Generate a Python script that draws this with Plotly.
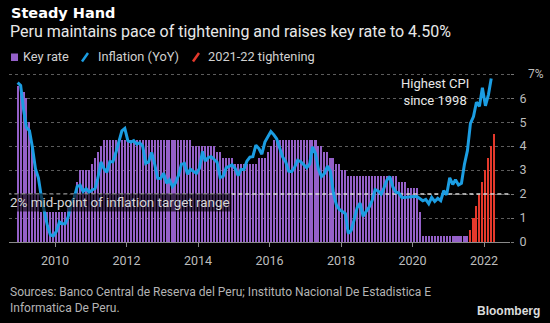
import pandas as pd
import plotly.graph_objects as go

# ---------------- data ----------------
# Monthly CPI YoY (%), Dec 2008 .. Mar 2022
inflation = [
    6.65,
    6.53, 5.49, 4.78, 4.64, 3.95, 3.06, 2.68, 1.87, 1.20, 0.68, 0.29, 0.25,
    0.44, 0.84, 0.76, 0.76, 1.04, 1.64, 1.82, 2.31, 2.37, 2.10, 2.22, 2.08,
    2.17, 2.23, 2.66, 3.34, 3.07, 2.91, 3.35, 3.35, 3.73, 4.20, 4.64, 4.74,
    4.23, 4.17, 4.23, 4.08, 4.14, 4.00, 3.28, 3.35, 3.74, 3.25, 2.66, 2.65,
    2.87, 2.45, 2.59, 2.31, 2.46, 2.77, 3.24, 3.28, 2.83, 3.04, 2.96, 2.86,
    3.07, 3.78, 3.38, 3.52, 3.56, 3.45, 3.33, 2.69, 2.74, 3.09, 3.16, 3.22,
    3.07, 2.77, 3.02, 3.02, 3.37, 3.54, 3.56, 4.04, 3.90, 3.66, 4.17, 4.40,
    4.61, 4.47, 4.30, 3.91, 3.54, 3.34, 2.96, 2.94, 3.13, 3.41, 3.35, 3.23,
    3.10, 3.25, 3.97, 3.69, 3.04, 2.73, 2.85, 3.17, 2.94, 2.04, 1.54, 1.36,
    1.25, 1.18, 0.36, 0.48, 0.93, 1.43, 1.62, 1.07, 1.28, 1.45, 1.74, 2.19,
    2.13, 2.00, 2.25, 2.59, 2.73, 2.29, 2.08, 2.04, 1.85, 1.87, 1.87, 1.90,
    1.90, 1.90, 1.82, 1.72, 1.78, 1.60, 1.86, 1.69, 1.82, 1.72, 2.14, 1.97,
    2.68, 2.40, 2.60, 2.38, 2.45, 3.25, 3.81, 4.95, 5.23, 5.83, 5.66, 6.43,
    5.68, 6.15, 6.82,
]
# Monthly reference rate (%), Dec 2008 .. Jul 2021
key_rate = (
    [6.5]
    + [6.5, 6.25, 6.0, 5.0, 4.0, 3.0, 2.0, 1.25, 1.25, 1.25, 1.25, 1.25]          # 2009
    + [1.25, 1.25, 1.25, 1.25, 1.5, 1.75, 2.0, 2.5, 3.0, 3.0, 3.0, 3.0]           # 2010
    + [3.25, 3.5, 3.75, 4.0] + [4.25] * 8                                        # 2011
    + [4.25] * 12                                                                # 2012
    + [4.25] * 10 + [4.0, 4.0]                                                   # 2013
    + [4.0] * 6 + [3.75, 3.75, 3.5, 3.5, 3.5, 3.5]                               # 2014
    + [3.25] * 8 + [3.5, 3.5, 3.5, 3.75]                                         # 2015
    + [4.0] + [4.25] * 11                                                        # 2016
    + [4.25] * 4 + [4.0, 4.0, 3.75, 3.75, 3.5, 3.5, 3.25, 3.25]                  # 2017
    + [3.0, 3.0] + [2.75] * 10                                                   # 2018
    + [2.75] * 7 + [2.5, 2.5, 2.5, 2.25, 2.25]                                   # 2019
    + [2.25, 2.25, 1.25] + [0.25] * 9                                            # 2020
    + [0.25] * 7                                                                 # 2021
)
# 2021-22 tightening (%), Aug 2021 .. Apr 2022
tightening = [0.5, 1.0, 1.5, 2.0, 2.5, 3.0, 3.5, 4.0, 4.5]

year_ticks = ["2010", "2012", "2014", "2016", "2018", "2020", "2022"]
y_ticks = [0, 1, 2, 3, 4, 5, 6, 7]
target_mid = 2

months_infl = pd.date_range("2008-12-01", periods=len(inflation), freq="MS") + pd.Timedelta(days=14)
months_key = pd.date_range("2008-12-01", periods=len(key_rate), freq="MS") + pd.Timedelta(days=14)
months_tight = pd.date_range("2021-08-01", periods=len(tightening), freq="MS") + pd.Timedelta(days=14)

# ---------------- styling ----------------
PURPLE = "#9460c8"
BLUE = "#1b9de2"
RED = "#e5392c"
FONT = "Roboto"

W, H = 550, 323
L, R, T, B = 9, 40, 73, 81
PW, PH = W - L - R, H - T - B


def px(x):
    return (x - L) / PW


def py(y):
    return (H - B - y) / PH


bar_w = 21 * 24 * 3600 * 1000

fig = go.Figure()
fig.add_trace(go.Bar(x=months_key, y=key_rate, width=bar_w, marker=dict(color=PURPLE, line=dict(width=0)),
                     name="Key rate", showlegend=False))
fig.add_trace(go.Bar(x=months_tight, y=tightening, width=bar_w, marker=dict(color=RED, line=dict(width=0)),
                     name="2021-22 tightening", showlegend=False))
fig.add_trace(go.Scatter(x=["2008-09-01", "2022-12-31"], y=[target_mid, target_mid], mode="lines",
                         line=dict(color="#d8d8d8", width=1.5, dash="4px,3px"), showlegend=False,
                         hoverinfo="skip"))
fig.add_trace(go.Scatter(x=months_infl, y=inflation, mode="lines", line=dict(color=BLUE, width=3),
                         name="Inflation (YoY)", showlegend=False))

ann = []
ann.append(dict(text="<b>Steady Hand</b>", x=px(9), y=py(12.5), xref="paper", yref="paper",
                xanchor="left", yanchor="middle", showarrow=False,
                font=dict(family="DejaVu Sans", size=14.5, color="#ffffff")))
ann.append(dict(text="Peru maintains pace of tightening and raises key rate to 4.50%", x=px(8), y=py(31),
                xref="paper", yref="paper", xanchor="left", yanchor="middle", showarrow=False,
                font=dict(family=FONT, size=16, color="#e8e8e8")))
for label, xpos in [("Key rate", 21), ("Inflation (YoY)", 96), ("2021-22 tightening", 206)]:
    ann.append(dict(text=label, x=px(xpos), y=py(57), xref="paper", yref="paper", xanchor="left",
                    yanchor="middle", showarrow=False, font=dict(family=FONT, size=12.8, color="#d0d0d0")))
ann.append(dict(text="2% mid-point of inflation target range", x=px(8), y=py(202), xref="paper",
                yref="paper", xanchor="left", yanchor="middle", showarrow=False,
                bgcolor="rgba(0,0,0,0.6)", borderpad=1,
                font=dict(family=FONT, size=13.4, color="#d8d8d8")))
ann.append(dict(text="Highest CPI<br>since 1998", x=px(435), y=py(92), xref="paper", yref="paper",
                xanchor="center", yanchor="middle", align="center", showarrow=False,
                font=dict(family=FONT, size=13, color="#e8e8e8")))
ann.append(dict(text="7%", x=px(526), y=py(74), xref="paper", yref="paper", xanchor="left",
                yanchor="middle", showarrow=False, font=dict(family=FONT, size=12, color="#bdbdbd")))
ann.append(dict(text="Sources: Banco Central de Reserva del Peru; Instituto Nacional De Estadistica E<br>"
                     "Informatica De Peru.", x=px(8), y=py(299.5), xref="paper", yref="paper",
                xanchor="left", yanchor="middle", align="left", showarrow=False,
                font=dict(family=FONT, size=12, color="#b4b4b4")))
ann.append(dict(text="<b>Bloomberg</b>", x=px(542), y=py(311), xref="paper", yref="paper",
                xanchor="right", yanchor="middle", showarrow=False,
                font=dict(family="Liberation Sans", size=12, color="#dcdcdc")))

shapes = [
    dict(type="rect", xref="paper", yref="paper", x0=px(11), x1=px(18), y0=py(61), y1=py(53.5),
         fillcolor=PURPLE, line=dict(width=0)),
    dict(type="line", xref="paper", yref="paper", x0=px(82), x1=px(88), y0=py(61.5), y1=py(53),
         line=dict(color=BLUE, width=2.5)),
    dict(type="line", xref="paper", yref="paper", x0=px(193), x1=px(199), y0=py(61.5), y1=py(53),
         line=dict(color=RED, width=2.5)),
]

fig.update_layout(
    width=W, height=H,
    margin=dict(l=L, r=R, t=T, b=B, pad=0),
    paper_bgcolor="#000000", plot_bgcolor="#000000",
    barmode="overlay", bargap=0,
    showlegend=False,
    annotations=ann, shapes=shapes,
    font=dict(family=FONT, color="#bdbdbd"),
)
fig.update_xaxes(
    type="date", range=["2008-09-18", "2022-09-23"],
    tickvals=[f"{y}-01-01" for y in year_ticks], ticktext=year_ticks,
    ticks="outside", ticklen=4, tickcolor="#8a8a8a", tickwidth=1,
    showline=True, linecolor="#8a8a8a", linewidth=1,
    showgrid=False, zeroline=False,
    ticklabelstandoff=3,
    tickfont=dict(family=FONT, size=12.5, color="#bdbdbd"),
)
fig.update_yaxes(
    side="right", range=[0, 7.05],
    tickvals=y_ticks, ticktext=[str(v) for v in y_ticks[:-1]] + [""],
    ticks="outside", ticklen=3, tickcolor="#777777",
    showgrid=True, gridcolor="#5c5c5c", griddash="dot", gridwidth=1,
    zeroline=False, showline=False,
    ticklabelstandoff=3,
    tickfont=dict(family=FONT, size=12.5, color="#bdbdbd"),
)

fig.write_html("out.html")
